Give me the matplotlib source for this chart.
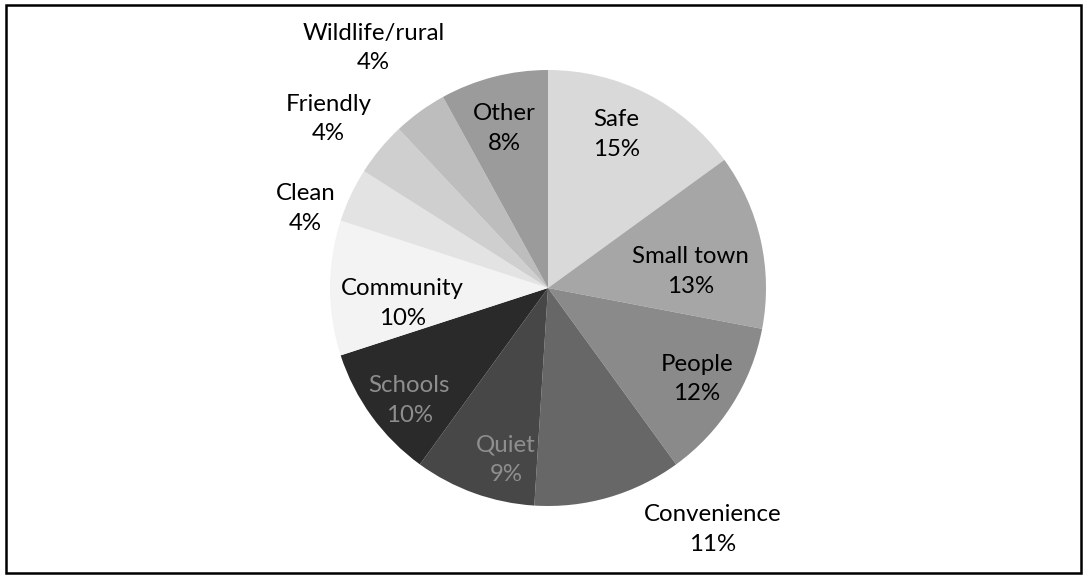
import numpy as np
import matplotlib
matplotlib.use("Agg")
import matplotlib.pyplot as plt
from matplotlib.patches import Rectangle

# slice data, clockwise from 12 o'clock
labels = ['Safe', 'Small town', 'People', 'Convenience', 'Quiet', 'Schools',
          'Community', 'Clean', 'Friendly', 'Wildlife/rural', 'Other']
shares = [15, 13, 12, 11, 9, 10, 10, 4, 4, 4, 8]

colors = ['#d9d9d9', '#a6a6a6', '#8a8a8a', '#676767', '#474747', '#2a2a2a',
          '#f3f3f3', '#e3e3e3', '#cfcfcf', '#bdbdbd', '#9b9b9b']
text_colors = ['black', 'black', 'black', 'black', '#8e8e8e', '#8e8e8e',
               'black', 'black', 'black', 'black', 'black']
# label placement: distance (in radii) and angular nudge (deg, clockwise)
label_r = [0.77, 0.66, 0.80, 1.34, 0.81, 0.82, 0.67, 1.17, 1.27, 1.36, 0.76]
label_nudge = [-3, 6, -1, -18, -6, -3, -6, -7, -2, 0, -1]

W, H = 1083, 578
fig = plt.figure(figsize=(W / 100, H / 100), dpi=100)
ax = fig.add_axes([0, 0, 1, 1])

cx, cy, R = 548, 290, 218
wedges, _ = ax.pie(shares, colors=colors, startangle=90, counterclock=False,
                   center=(cx, cy), radius=R, frame=True,
                   wedgeprops=dict(linewidth=0))
ax.set_xlim(0, W)
ax.set_ylim(0, H)
ax.set_aspect('equal')
ax.axis('off')

for w, lab, s, r, d, tc in zip(wedges, labels, shares, label_r, label_nudge, text_colors):
    mid = np.deg2rad((w.theta1 + w.theta2) / 2 - d)
    x = cx + r * R * np.cos(mid)
    y = cy + r * R * np.sin(mid)
    ax.text(x, y, f'{lab}\n{s}%', ha='center', va='center', color=tc,
            fontsize=17.3, family=['Lato', 'DejaVu Sans'], linespacing=1.5)

ax.add_patch(Rectangle((6, 5), 1075, 568, fill=False, edgecolor='black',
                       linewidth=1.8, clip_on=False))

fig.savefig('out.png', dpi=100)
